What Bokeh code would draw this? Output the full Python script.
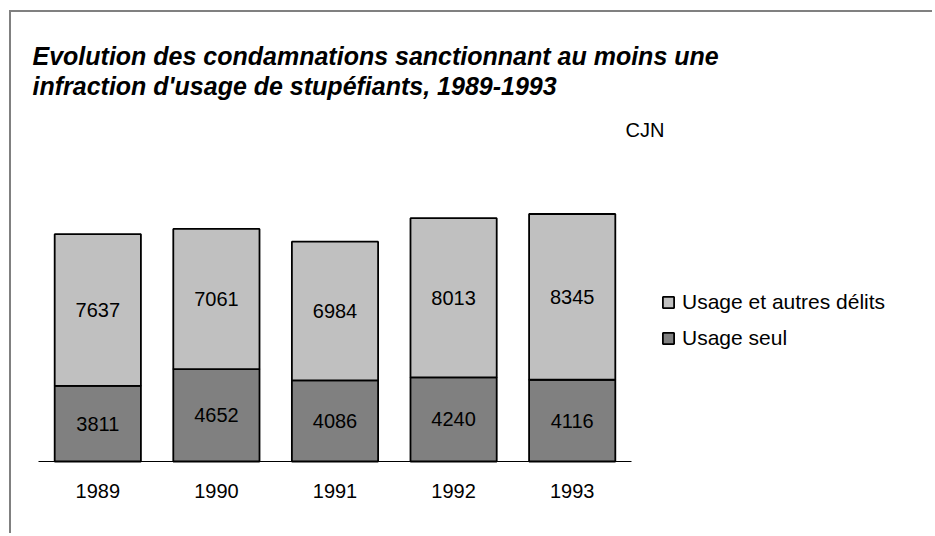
from bokeh.plotting import figure
from bokeh.models import Range1d, Label, Legend, LegendItem, ColumnDataSource
from bokeh.embed import file_html
from bokeh.resources import INLINE
from bokeh.core.properties import value

years = ["1989", "1990", "1991", "1992", "1993"]
usage_seul = [3811, 4652, 4086, 4240, 4116]
usage_autres = [7637, 7061, 6984, 8013, 8345]
series_names = ["Usage seul", "Usage et autres délits"]
colors = ["#808080", "#c0c0c0"]
title_lines = ["Evolution des condamnations sanctionnant au moins une",
               "infraction d'usage de stupéfiants, 1989-1993"]
source_label = "CJN"

FONT = "Liberation Sans"

# layout (pixels, relative to the canvas)
W, H = 923, 523
AXIS_LEFT = 27          # where the category axis starts
AXIS_Y = 449            # baseline, from canvas top
PX_PER_CAT = 118.6
PX_PER_UNIT = 0.01986

n = len(years)
xpos = [i + 0.5 for i in range(n)]

src = ColumnDataSource(dict(
    x=xpos,
    year=years,
    seul=usage_seul,
    autres=usage_autres,
    seul_mid=[v / 2 for v in usage_seul],
    autres_mid=[s + a / 2 for s, a in zip(usage_seul, usage_autres)],
    seul_txt=[str(v) for v in usage_seul],
    autres_txt=[str(v) for v in usage_autres],
    zero=[0] * n,
))

x_start = -AXIS_LEFT / PX_PER_CAT
x_end = x_start + W / PX_PER_CAT
y_end = AXIS_Y / PX_PER_UNIT
y_start = -(H - AXIS_Y) / PX_PER_UNIT

p = figure(x_range=Range1d(x_start, x_end), y_range=Range1d(y_start, y_end),
           width=W, height=H, output_backend="svg", toolbar_location=None,
           title=None, x_axis_location=None, y_axis_location=None,
           min_border=0, min_border_left=0, min_border_right=0,
           min_border_top=0, min_border_bottom=0)
p.xgrid.grid_line_color = None
p.ygrid.grid_line_color = None
p.outline_line_color = None
p.background_fill_color = "white"
p.border_fill_color = "white"
p.styles = {"margin-left": "9px", "margin-top": "10px",
            "border-top": "2px solid #808080", "border-left": "2px solid #808080"}

rs = p.vbar_stack(["seul", "autres"], x="x", width=0.727, source=src,
                  fill_color=colors, line_color="black", line_width=1.8)

# category baseline
p.segment(x0=0, x1=n, y0=0, y1=0, line_color="black", line_width=1)

# year labels under the baseline
p.text(x="x", y="zero", text="year", source=src, y_offset=29,
       text_font=value(FONT), text_font_size="20px", text_color="black",
       text_align="center", text_baseline="middle")

p.text(x="x", y="seul_mid", text="seul_txt", source=src,
       text_font=value(FONT), text_font_size="20px", text_color="black",
       text_align="center", text_baseline="middle")
p.text(x="x", y="autres_mid", text="autres_txt", source=src,
       text_font=value(FONT), text_font_size="20px", text_color="black",
       text_align="center", text_baseline="middle")

for line, yy in zip(title_lines, [H - 43, H - 73]):
    p.add_layout(Label(x=21, y=yy, x_units="screen", y_units="screen", text=line,
                       text_font=FONT, text_font_size="25px",
                       text_font_style="bold italic", text_color="black",
                       text_baseline="alphabetic"))

p.add_layout(Label(x=614, y=H - 117, x_units="screen", y_units="screen", text=source_label,
                   text_font=FONT, text_font_size="20px", text_color="black",
                   text_baseline="alphabetic"))

legend = Legend(items=[LegendItem(label=series_names[1], renderers=[rs[1]]),
                       LegendItem(label=series_names[0], renderers=[rs[0]])],
                location=(650, H - 338), orientation="vertical",
                glyph_width=14, glyph_height=14, label_standoff=7, spacing=12,
                padding=0, margin=0, border_line_color=None,
                background_fill_alpha=0, label_height=14,
                label_text_font=FONT, label_text_font_size="21px",
                label_text_color="black")
p.add_layout(legend)

open("out.html", "w").write(file_html(p, INLINE))
